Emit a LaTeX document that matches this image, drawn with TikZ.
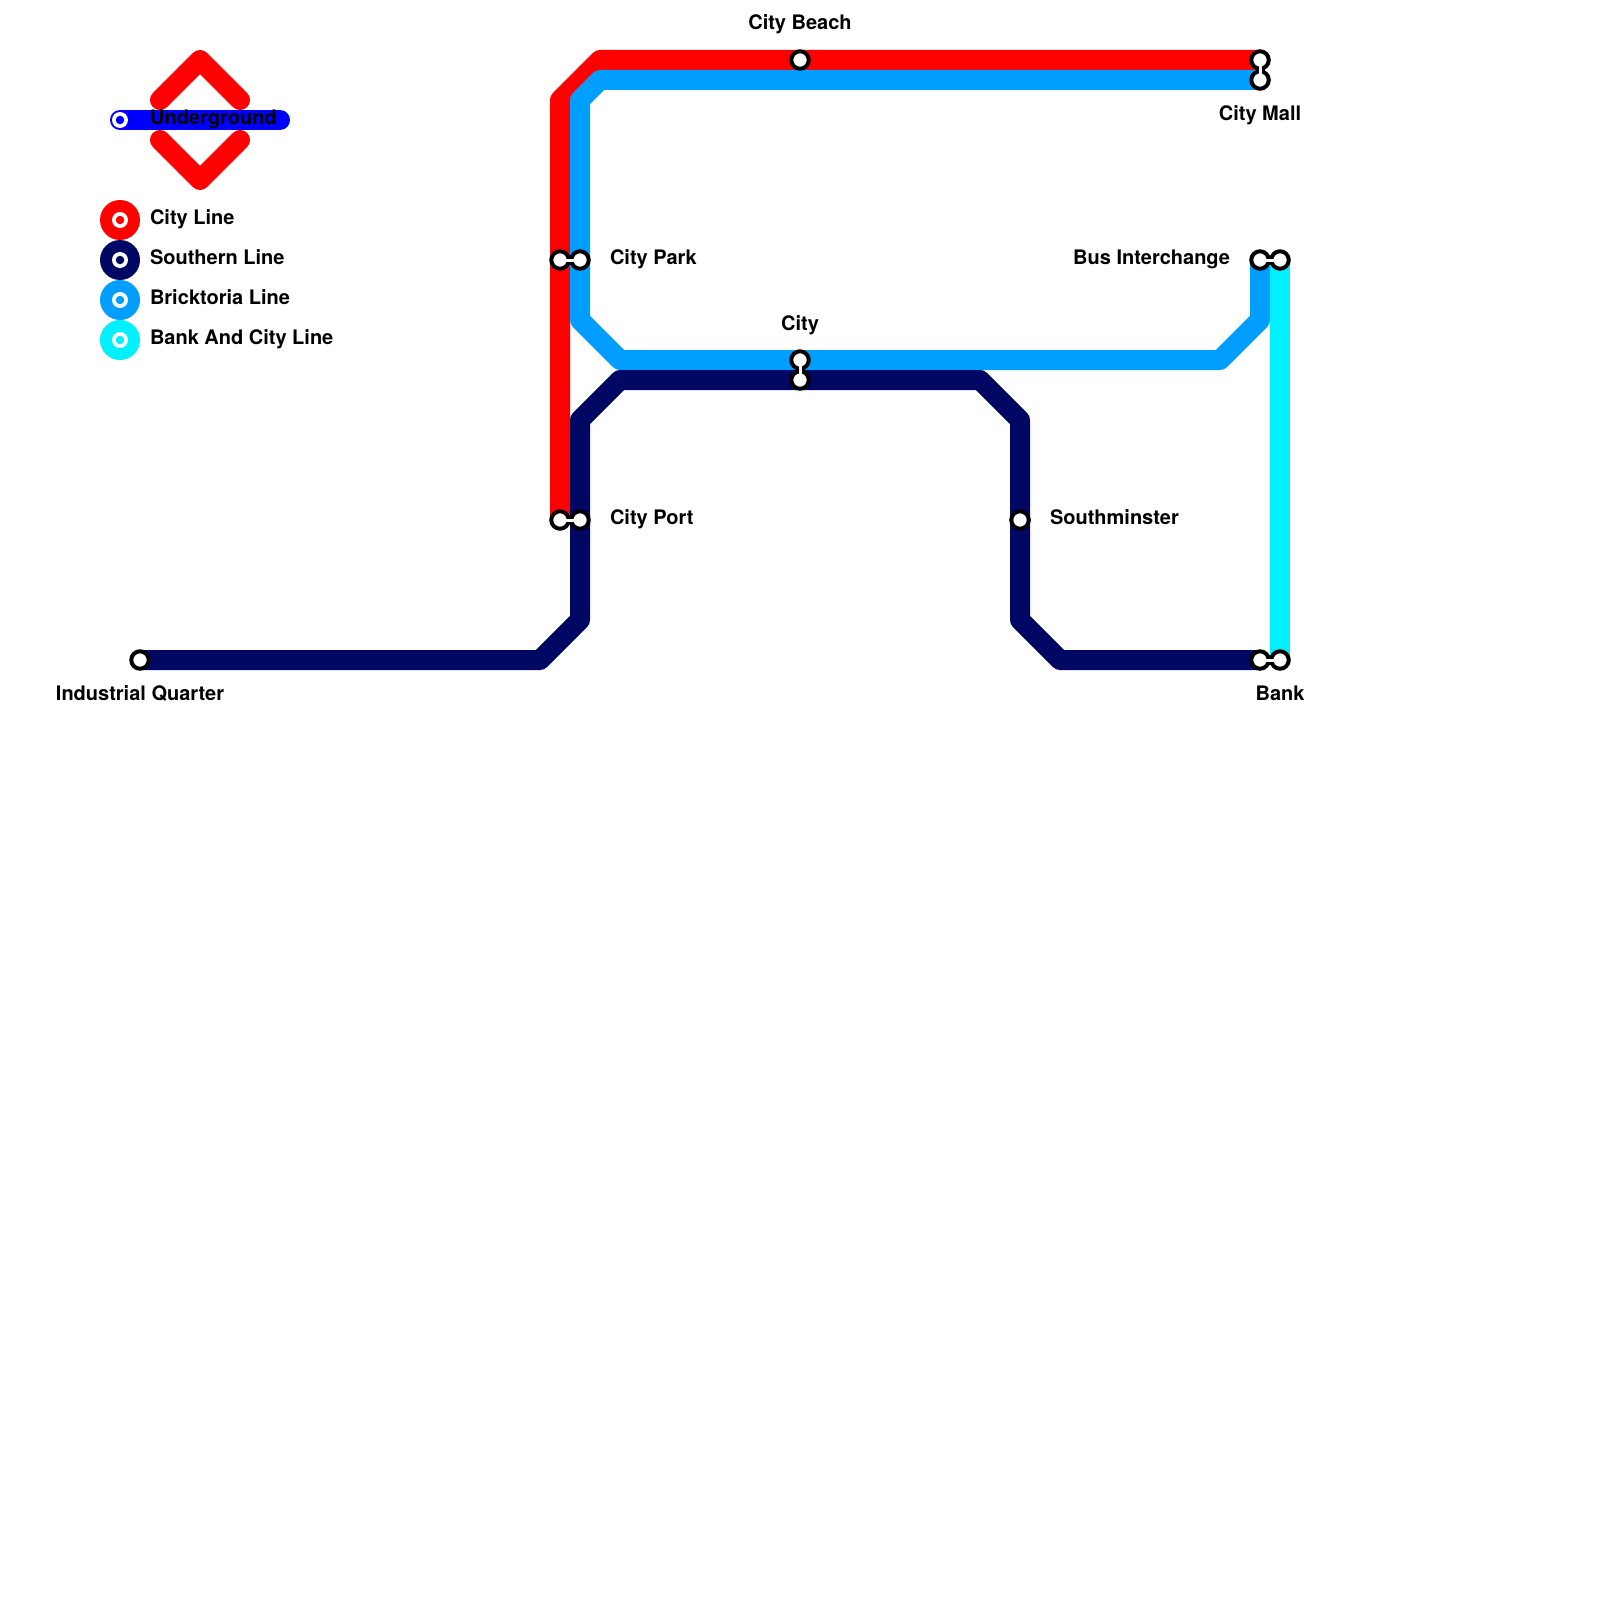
\documentclass[tikz,border=0pt]{standalone}
\usepackage{fontspec}
\setmainfont{TeX Gyre Heros}
\definecolor{cityred}{HTML}{FF0000}
\definecolor{southnavy}{HTML}{000864}
\definecolor{brickblue}{HTML}{009EFF}
\definecolor{bankcyan}{HTML}{00F0FF}
\definecolor{ugblue}{HTML}{0000FF}
\tikzset{
  metroline/.style={line width=20pt,line join=round,line cap=butt},
  logoline/.style={line width=20pt,line join=round,line cap=round},
  stn/.style={circle,draw=black,line width=4pt,fill=white,minimum size=17.5pt,inner sep=0pt,outer sep=0pt},
  link/.style={line width=9pt,draw=black},
  linkin/.style={line width=3pt,draw=white},
  lbl/.style={font=\bfseries\fontsize{20}{24}\selectfont,text=black,inner sep=0pt,outer sep=0pt},
  lblc/.style={lbl,anchor=base},
  lbll/.style={lbl,anchor=base west},
  lblr/.style={lbl,anchor=base east},
  legdisc/.style={circle,minimum size=40pt,inner sep=0pt,outer sep=0pt},
  legring/.style={circle,fill=white,minimum size=16pt,inner sep=0pt,outer sep=0pt},
  legdot/.style={circle,minimum size=8.5pt,inner sep=0pt,outer sep=0pt},
}
\begin{document}
\begin{tikzpicture}[x=1pt,y=-1pt]
\useasboundingbox (0,0) rectangle (1600,1600);
\fill[white] (0,0) rectangle (1600,1600);
% logo
\coordinate (la) at (160,100); \coordinate (lb) at (200,60); \coordinate (lc) at (240,100);
\coordinate (ld) at (160,140); \coordinate (le) at (200,180); \coordinate (lf) at (240,140);
\coordinate (ua) at (120,120); \coordinate (ub) at (280,120);
\draw[logoline,cityred] (la) -- (lb) -- (lc);
\draw[logoline,cityred] (ld) -- (le) -- (lf);
\draw[logoline,ugblue] (ua) -- (ub);
\node[legring] (ugring) at (ua) {};
\node[legdot,fill=ugblue] (ugdot) at (ua) {};
\node[lbll] (ugtext) at (150,124.4) {Underground};
% legend
\node[legdisc,fill=cityred] (k1) at (120,220) {};
\node[legring] (k1r) at (k1) {}; \node[legdot,fill=cityred] (k1d) at (k1) {};
\node[lbll] (k1t) at (150,224.4) {City Line};
\node[legdisc,fill=southnavy] (k2) at (120,260) {};
\node[legring] (k2r) at (k2) {}; \node[legdot,fill=southnavy] (k2d) at (k2) {};
\node[lbll] (k2t) at (150,264.4) {Southern Line};
\node[legdisc,fill=brickblue] (k3) at (120,300) {};
\node[legring] (k3r) at (k3) {}; \node[legdot,fill=brickblue] (k3d) at (k3) {};
\node[lbll] (k3t) at (150,304.4) {Bricktoria Line};
\node[legdisc,fill=bankcyan] (k4) at (120,340) {};
\node[legring] (k4r) at (k4) {}; \node[legdot,fill=bankcyan] (k4d) at (k4) {};
\node[lbll] (k4t) at (150,344.4) {Bank And City Line};
% station positions
\coordinate (beachP) at (800,60);
\coordinate (mallR) at (1260,60);
\coordinate (mallB) at (1260,80);
\coordinate (parkR) at (560,260);
\coordinate (parkB) at (580,260);
\coordinate (cityB) at (800,360);
\coordinate (cityS) at (800,380);
\coordinate (portR) at (560,520);
\coordinate (portS) at (580,520);
\coordinate (southP) at (1020,520);
\coordinate (indP) at (140,660);
\coordinate (busB) at (1260,260);
\coordinate (busC) at (1280,260);
\coordinate (bankS) at (1260,660);
\coordinate (bankC) at (1280,660);
% bends
\coordinate (r1) at (560,100); \coordinate (r2) at (600,60);
\coordinate (b1) at (600,80); \coordinate (b2) at (580,100); \coordinate (b3) at (580,320);
\coordinate (b4) at (620,360); \coordinate (b5) at (1220,360); \coordinate (b6) at (1260,320);
\coordinate (s1) at (540,660); \coordinate (s2) at (580,620); \coordinate (s3) at (580,420);
\coordinate (s4) at (620,380); \coordinate (s5) at (980,380); \coordinate (s6) at (1020,420);
\coordinate (s7) at (1020,620); \coordinate (s8) at (1060,660);
% lines
\draw[metroline,cityred] (portR) -- (r1) -- (r2) -- (mallR);
\draw[metroline,brickblue] (mallB) -- (b1) -- (b2) -- (b3) -- (b4) -- (b5) -- (b6) -- (busB);
\draw[metroline,southnavy] (indP) -- (s1) -- (s2) -- (s3) -- (s4) -- (s5) -- (s6) -- (s7) -- (s8) -- (bankS);
\draw[metroline,bankcyan] (busC) -- (bankC);
% interchange links
\draw[link] (mallR) -- (mallB);
\draw[link] (parkR) -- (parkB);
\draw[link] (cityB) -- (cityS);
\draw[link] (portR) -- (portS);
\draw[link] (busB) -- (busC);
\draw[link] (bankS) -- (bankC);
% stations
\node[stn] (nBeach) at (beachP) {};
\node[stn] (nMallR) at (mallR) {};
\node[stn] (nMallB) at (mallB) {};
\node[stn] (nParkR) at (parkR) {};
\node[stn] (nParkB) at (parkB) {};
\node[stn] (nCityB) at (cityB) {};
\node[stn] (nCityS) at (cityS) {};
\node[stn] (nPortR) at (portR) {};
\node[stn] (nPortS) at (portS) {};
\node[stn] (nSouth) at (southP) {};
\node[stn] (nInd) at (indP) {};
\node[stn] (nBusB) at (busB) {};
\node[stn] (nBusC) at (busC) {};
\node[stn] (nBankS) at (bankS) {};
\node[stn] (nBankC) at (bankC) {};
\draw[linkin] (mallR) -- (mallB);
\draw[linkin] (parkR) -- (parkB);
\draw[linkin] (cityB) -- (cityS);
\draw[linkin] (portR) -- (portS);
\draw[linkin] (busB) -- (busC);
\draw[linkin] (bankS) -- (bankC);
% labels
\node[lblc] (tBeach) at (800,30) {City Beach};
\node[lblc] (tMall) at (1260,120.6) {City Mall};
\node[lbll] (tPark) at (610,264.4) {City Park};
\node[lblc] (tCity) at (800,330) {City};
\node[lbll] (tPort) at (610,524.4) {City Port};
\node[lbll] (tSouth) at (1050,524.4) {Southminster};
\node[lblc] (tInd) at (140,700) {Industrial Quarter};
\node[lblr] (tBus) at (1230,264.4) {Bus Interchange};
\node[lblc] (tBank) at (1280,700) {Bank};
\end{tikzpicture}
\end{document}
